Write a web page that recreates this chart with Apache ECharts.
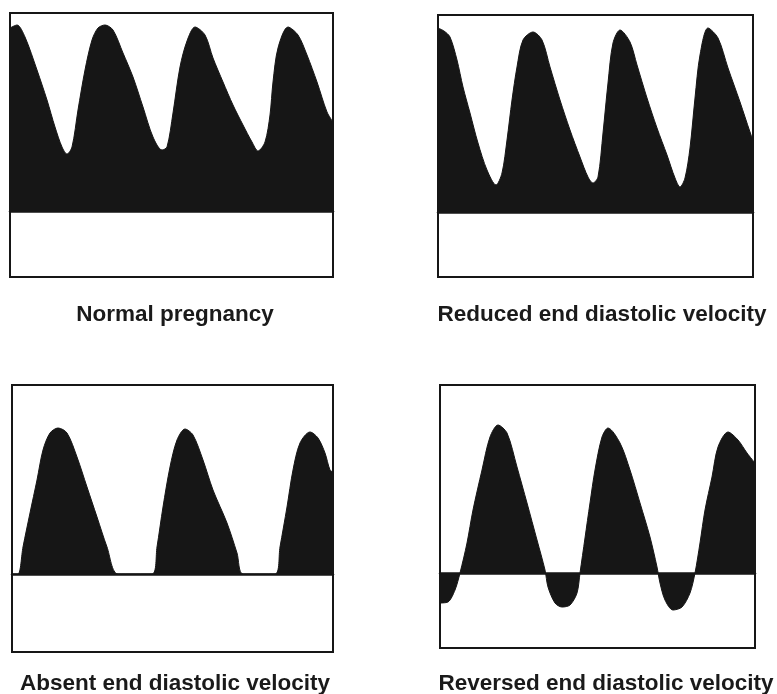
<!DOCTYPE html>
<html>
<head>
<meta charset="utf-8">
<script src="https://cdn.jsdelivr.net/npm/echarts@6/dist/echarts.min.js"></script>
<style>
html, body { margin: 0; padding: 0; background: #fff; }
#chart { width: 777px; height: 694px; }
</style>
</head>
<body>
<div id="chart"></div>
<script>
// panel titles
const titles = ['Normal pregnancy', 'Reduced end diastolic velocity', 'Absent end diastolic velocity', 'Reversed end diastolic velocity']

// time (arbitrary units) / velocity (arbitrary units, 0 = baseline)
const normalT = [0, 7, 15, 27, 37, 45, 52, 57, 62, 68, 75, 82, 88, 95, 103, 113, 123, 133, 143, 152, 157, 163, 170, 177, 185, 195, 203, 213, 223, 233, 242, 248, 255, 260, 263, 268, 278, 288, 297, 307, 317, 323]
const normalV = [183, 186, 174, 141, 111, 84, 64, 57, 64, 101, 141, 171, 183, 186, 181, 158, 134, 104, 74, 61, 64, 98, 144, 170, 184, 176, 153, 129, 106, 86, 69, 60, 69, 96, 129, 163, 184, 176, 156, 129, 99, 89]

const reducedT = [0, 6, 12, 19, 25, 32, 40, 49, 58, 64, 69, 74, 79, 85, 95, 104, 112, 122, 132, 142, 150, 155, 160, 165, 170, 175, 182, 192, 199, 209, 219, 229, 237, 242, 247, 252, 257, 262, 270, 280, 290, 302, 312, 315]
const reducedV = [184, 181, 175, 152, 125, 99, 69, 42, 27, 39, 72, 112, 145, 172, 180, 172, 145, 112, 82, 55, 35, 29, 35, 79, 129, 169, 182, 170, 147, 114, 84, 57, 34, 25, 34, 64, 114, 157, 184, 174, 144, 110, 80, 72]

const absentT = [0, 6, 11, 18, 25, 31, 38, 46, 55, 65, 75, 85, 95, 106, 140, 145, 151, 158, 165, 173, 181, 191, 201, 215, 225, 231, 263, 268, 275, 281, 288, 298, 306, 313, 318, 321]
const absentV = [0, 0, 27, 61, 94, 124, 141, 146, 141, 117, 87, 57, 27, 0, 0, 27, 67, 107, 134, 145, 139, 114, 84, 51, 21, 0, 0, 27, 67, 104, 131, 142, 136, 121, 104, 102]

const reversedT = [0, 8, 15, 20, 27, 33, 42, 50, 58, 67, 77, 87, 97, 105, 108, 115, 122, 130, 137, 140, 145, 150, 155, 162, 168, 180, 190, 200, 210, 217, 220, 225, 233, 242, 250, 255, 260, 265, 272, 278, 288, 298, 307, 315]
const reversedV = [-30, -29, -17, 0, 30, 63, 103, 136, 148, 140, 106, 70, 33, 3, -14, -30, -34, -32, -20, 0, 35, 70, 103, 136, 145, 130, 103, 70, 36, 6, -10, -27, -37, -34, -20, 0, 30, 63, 96, 126, 141, 133, 120, 110]

const traces = [
    [normalT, normalV],
    [reducedT, reducedV],
    [absentT, absentV],
    [reversedT, reversedV]
]

// panel boxes in px: left, top, width, height, and where the baseline sits
const boxes = [
    { left: 10, top: 13, width: 323, height: 264, base: 211 },
    { left: 438, top: 15, width: 315, height: 262, base: 212 },
    { left: 12, top: 385, width: 321, height: 267, base: 574 },
    { left: 440, top: 385, width: 315, height: 263, base: 573 }
]
const labelPos = [[175, 315], [602, 315], [175, 684], [606, 684]]

const ink = '#161616'
let myChart = echarts.init(document.getElementById('chart'))

const grid = [], xAxis = [], yAxis = [], series = [], graphic = []
boxes.forEach((b, i) => {
    grid.push({
        left: b.left, top: b.top, width: b.width, height: b.height,
        show: true, borderColor: ink, borderWidth: 2, backgroundColor: '#fff'
    })
    // x axis sits on the zero line and draws the baseline
    xAxis.push({
        type: 'value', gridIndex: i, min: 0, max: b.width,
        axisLine: { show: true, onZero: true, lineStyle: { color: ink, width: 2.5 } },
        axisTick: { show: false }, axisLabel: { show: false }, splitLine: { show: false }
    })
    yAxis.push({
        type: 'value', gridIndex: i,
        min: -(b.top + b.height - b.base), max: b.base - b.top,
        axisLine: { show: false }, axisTick: { show: false },
        axisLabel: { show: false }, splitLine: { show: false }
    })
    const [t, v] = traces[i]
    series.push({
        type: 'line', xAxisIndex: i, yAxisIndex: i,
        data: t.map((x, k) => [x, v[k]]),
        smooth: 0.3, symbol: 'none', silent: true,
        lineStyle: { color: ink, width: 1 },
        areaStyle: { color: ink, opacity: 1 }
    })
    graphic.push({
        type: 'text', x: labelPos[i][0], y: labelPos[i][1],
        style: {
            text: titles[i], fill: '#1a1a1a',
            font: 'bold 22.5px "Liberation Sans", Arial, sans-serif',
            textAlign: 'center', textVerticalAlign: 'middle'
        }
    })
})

myChart.setOption({
    animation: false,
    grid, xAxis, yAxis, series, graphic
})
</script>
</body>
</html>
